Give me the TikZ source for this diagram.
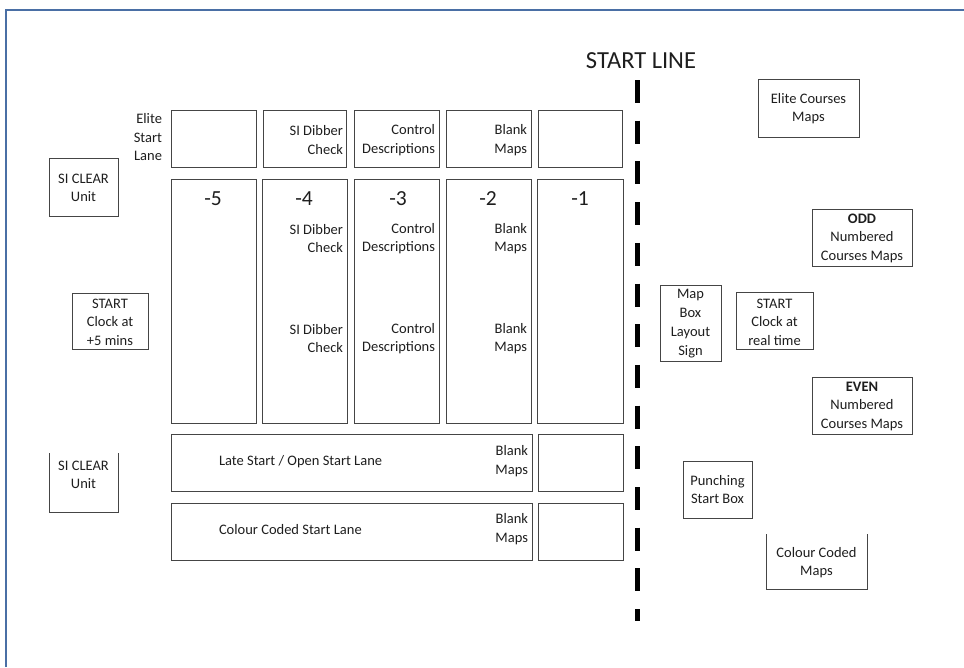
\documentclass[tikz,border=0pt]{standalone}
\usepackage{fontspec}
\setmainfont{Carlito}
\usetikzlibrary{calc}
\definecolor{frameblue}{HTML}{4A6FA5}
\definecolor{boxline}{HTML}{454545}
\definecolor{txt}{HTML}{1E1E1E}
\tikzset{
  boxst/.style={draw=boxline, line width=1pt, inner sep=0pt, outer sep=0pt},
  lbl/.style={inner sep=0pt, outer sep=0pt, text=txt, font=\fontsize{14.5}{18.5}\selectfont},
  rlbl/.style={lbl, anchor=east, align=right},
  clbl/.style={lbl, align=center},
  numlbl/.style={inner sep=0pt, text=txt, font=\fontsize{21.5}{24}\selectfont},
  startline/.style={line width=5pt, dash pattern=on 23pt off 17.7pt}
}
\newcommand{\mybox}[5]{%
  \node[boxst, minimum width={(#4-#2)*1pt}, minimum height={(#5-#3)*1pt}] (#1) at ({(#2+#4)/2},{(#3+#5)/2}) {};}
\begin{document}
\begin{tikzpicture}[x=1pt,y=-1pt]
\useasboundingbox (0,0) rectangle (964,667);
% frame
\draw[frameblue, line width=2pt] (6,667) -- (6,9.5) -- (964,9.5);

% elite row
\mybox{e1}{171}{110}{256}{167}
\mybox{e2}{263}{110}{346}{167}
\mybox{e3}{354}{110}{439}{167}
\mybox{e4}{446}{110}{531}{167}
\mybox{e5}{538}{110}{622}{167}
\node[rlbl] (elitelane) at (162,137.5) {Elite\\Start\\Lane};
\node[rlbl] (e2t) at (343,140) {SI Dibber\\Check};
\node[rlbl] (e3t) at (435,140) {Control\\Descriptions};
\node[rlbl] (e4t) at (527,140) {Blank\\Maps};

% columns
\mybox{c1}{171}{179}{256}{423}
\mybox{c2}{262}{179}{347}{423}
\mybox{c3}{354}{179}{439}{423}
\mybox{c4}{446}{179}{531}{423}
\mybox{c5}{537}{179}{623}{423}
\node[numlbl] (n5) at (213,199) {-5};
\node[numlbl] (n4) at (304,199) {-4};
\node[numlbl] (n3) at (398,199) {-3};
\node[numlbl] (n2) at (488,199) {-2};
\node[numlbl] (n1) at (580,199) {-1};
\node[rlbl] (c2a) at (343,238.5) {SI Dibber\\Check};
\node[rlbl] (c2b) at (343,338.5) {SI Dibber\\Check};
\node[rlbl] (c3a) at (435,238.5) {Control\\Descriptions};
\node[rlbl] (c3b) at (435,338.5) {Control\\Descriptions};
\node[rlbl] (c4a) at (527,238.5) {Blank\\Maps};
\node[rlbl] (c4b) at (527,338.5) {Blank\\Maps};

% lanes
\mybox{late}{171}{434}{532}{491}
\mybox{lateend}{538}{434}{623}{491}
\node[lbl, anchor=west] (latet) at (219,462) {Late Start / Open Start Lane};
\node[rlbl] (latem) at (528,461) {Blank\\Maps};
\mybox{col}{171}{503}{532}{560}
\mybox{colend}{538}{503}{623}{560}
\node[lbl, anchor=west] (colt) at (219,530) {Colour Coded Start Lane};
\node[rlbl] (colm) at (528,529) {Blank\\Maps};

% left side
\mybox{siclear1}{49}{158}{118}{216}
\node[clbl] (siclear1t) at (83.5,188) {SI CLEAR\\Unit};
\mybox{start5}{72}{293}{148}{349}
\node[clbl] (start5t) at (110,322) {START\\Clock at\\+5 mins};
\draw[boxline, line width=1pt] (49,453) -- (49,512) -- (118,512) -- (118,453);
\node[clbl] (siclear2t) at (83.5,475) {SI CLEAR\\Unit};

% start line
\node[inner sep=0pt, text=txt, font=\fontsize{24.5}{28}\selectfont] (startlbl) at (641,61) {START LINE};
\coordinate (slt) at (637,80);
\coordinate (slb) at (637,621);
\draw[startline] (slt) -- (slb);

% right side
\mybox{elitemaps}{758}{79}{859}{137}
\node[clbl] (elitemapst) at (808.5,108.5) {Elite Courses\\Maps};
\mybox{odd}{812}{209}{912}{266}
\node[clbl] (oddt) at (862,238) {\textbf{ODD}\\Numbered\\Courses Maps};
\mybox{mapbox}{660}{285}{721}{361}
\node[lbl, align=center, font=\fontsize{14.5}{19}\selectfont] (mapboxt) at (690.5,323.5) {Map\\Box\\Layout\\Sign};
\mybox{startreal}{736}{292}{813}{349}
\node[clbl] (startrealt) at (774.5,322) {START\\Clock at\\real time};
\mybox{even}{812}{377}{912}{434}
\node[clbl] (event) at (862,406) {\textbf{EVEN}\\Numbered\\Courses Maps};
\mybox{punch}{683}{461}{752}{518}
\node[clbl] (puncht) at (717.5,489.5) {Punching\\Start Box};
\draw[boxline, line width=1pt] (766,534) -- (766,589) -- (867,589) -- (867,534);
\node[clbl] (colmapst) at (816.5,562.5) {Colour Coded\\Maps};
\end{tikzpicture}
\end{document}
